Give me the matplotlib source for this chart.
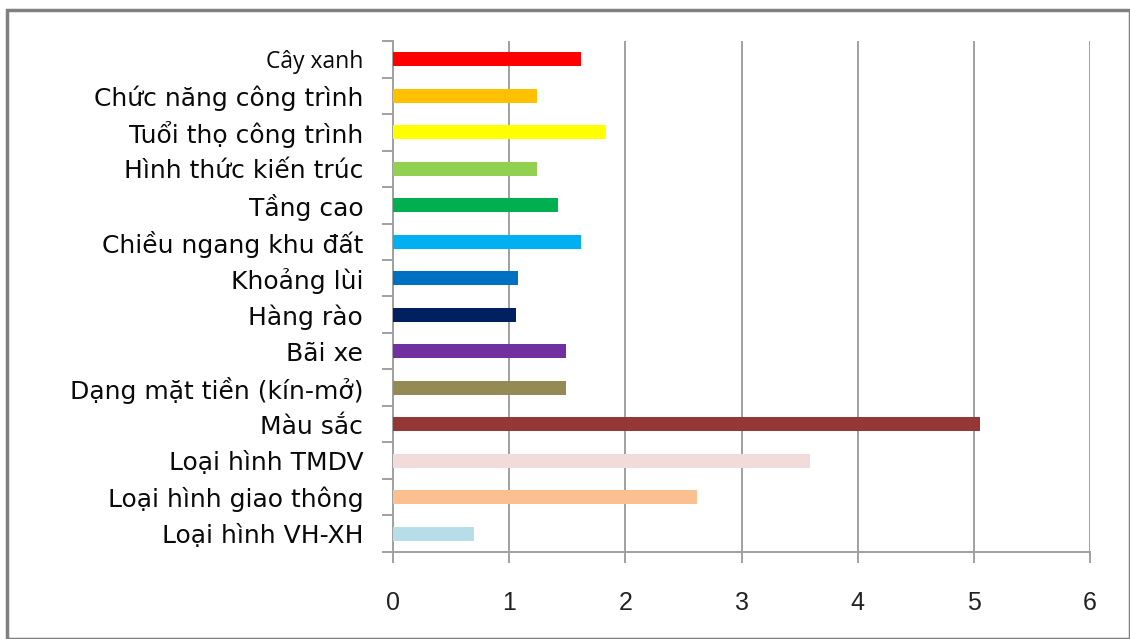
import matplotlib.pyplot as plt
from matplotlib.patches import Rectangle

# --- data (top to bottom) ---
categories = ["Cây xanh", "Chức năng công trình", "Tuổi thọ công trình",
              "Hình thức kiến trúc", "Tầng cao", "Chiều ngang khu đất",
              "Khoảng lùi", "Hàng rào", "Bãi xe", "Dạng mặt tiền (kín-mở)",
              "Màu sắc", "Loại hình TMDV", "Loại hình giao thông",
              "Loại hình VH-XH"]
values = [1.62, 1.24, 1.83, 1.24, 1.42, 1.62, 1.08, 1.06, 1.49, 1.49,
          5.05, 3.59, 2.62, 0.70]
colors = ["#FF0000", "#FFC000", "#FFFF00", "#92D050", "#00B050", "#00B0F0",
          "#0070C0", "#002060", "#7030A0", "#948A54", "#953735", "#F2DCDB",
          "#FAC090", "#B7DEE8"]
xticks = [0, 1, 2, 3, 4, 5, 6]

plt.rcParams['font.family'] = ['DejaVu Sans']

fig = plt.figure(figsize=(11.3, 6.39), dpi=100)
ax = fig.add_axes([0.3478, 0.1362, 0.6168, 0.7996])

n = len(categories)
ypos = list(range(n))
ax.barh(ypos, values, height=0.38, color=colors, zorder=3)

ax.set_xlim(0, 6)
ax.set_ylim(n - 0.5, -0.5)
ax.set_xticks(xticks)
ax.set_xticklabels([str(t) for t in xticks], fontsize=18, color="#222222",
                   family=['Liberation Sans Narrow', 'Liberation Sans'])
ax.xaxis.grid(True, color="#A0A0A0", linewidth=1.4, zorder=0)

ax.set_yticks(ypos)
ax.set_yticklabels(categories, fontsize=18, color="#0a0a0a")
first = ax.get_yticklabels()[0]
first.set_fontsize(16.5)
first.set_family(['Open Sans', 'DejaVu Sans'])
ax.tick_params(axis='y', which='major', length=0, pad=21.5)
ax.set_yticks([i - 0.5 for i in range(n + 1)], minor=True)
ax.tick_params(axis='y', which='minor', length=8, width=1.4, color="#A0A0A0")
ax.tick_params(axis='x', length=8, width=1.4, color="#A0A0A0", pad=20)

for s in ['top', 'right']:
    ax.spines[s].set_visible(False)
for s in ['left', 'bottom']:
    ax.spines[s].set_color("#A0A0A0")
    ax.spines[s].set_linewidth(1.4)

# outer frame
fig.patches.append(Rectangle((0.006, 0.0), 0.994, 0.985, transform=fig.transFigure,
                             fill=False, edgecolor="#808080", linewidth=2.5))

fig.savefig("out.png", dpi=100)
